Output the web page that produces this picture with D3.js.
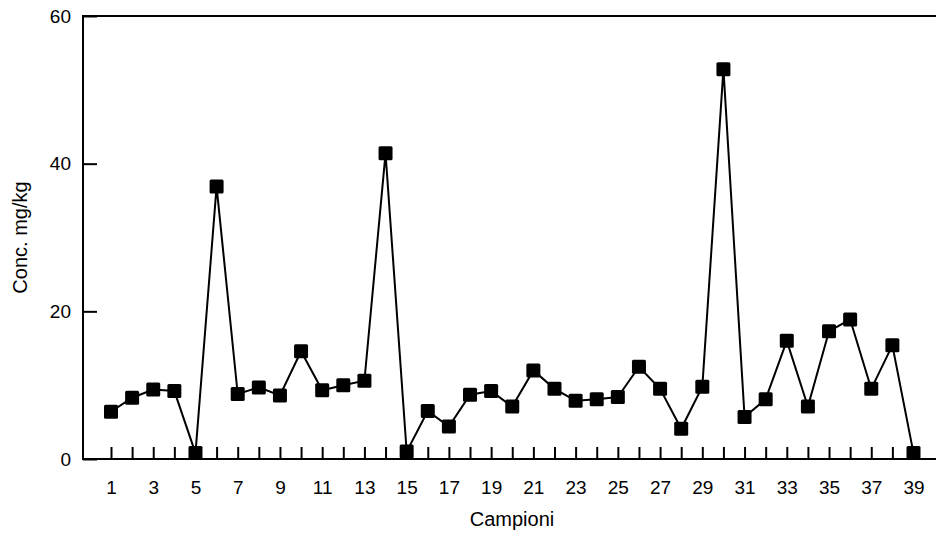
<!DOCTYPE html>
<html>
<head>
<meta charset="utf-8">
<script type="text/javascript" src="https://cdn.jsdelivr.net/npm/d3@7"></script>
<style>
	body { margin: 0; background: #fff; }
	text { font-family: "Liberation Sans", Arial, sans-serif; fill: #000; }
</style>
</head>
<body>
<div id="chart"></div>
<script type="text/javascript">
var campioni = d3.range(1, 40),
	conc = [6.4, 8.3, 9.4, 9.2, 0.8, 36.9, 8.8, 9.7, 8.6, 14.6,
		9.3, 10.0, 10.6, 41.4, 1.0, 6.5, 4.4, 8.7, 9.2, 7.1,
		12.0, 9.5, 7.9, 8.1, 8.4, 12.5, 9.5, 4.1, 9.8, 52.8,
		5.7, 8.1, 16.0, 7.1, 17.3, 18.9, 9.5, 15.4, 0.8],
	yTicks = [0, 20, 40, 60];

var w = 936,
	h = 536,
	plotLeft = 83,
	plotTop = 16,
	plotBottom = 459;

var svg = d3.select("#chart")
	.append("svg")
	.attr("width", w)
	.attr("height", h);

var x = d3.scaleLinear().domain([1, 39]).range([111, 913.5]);
var y = d3.scaleLinear().domain([0, 60]).range([plotBottom, plotTop]);

// frame: left, bottom and top lines (right side runs off the picture)
svg.append("path")
	.attr("d", "M" + w + "," + plotTop + "H" + plotLeft + "V" + plotBottom + "H" + w)
	.style("fill", "none")
	.style("stroke", "#000")
	.style("stroke-width", 2);

// x axis, ticks pointing inward
var xAxis = svg.append("g")
	.attr("transform", "translate(0," + plotBottom + ")")
	.call(d3.axisBottom(x)
		.tickValues(campioni)
		.tickSizeInner(-12)
		.tickSizeOuter(0)
		.tickPadding(22)
		.tickFormat(function(d) { return d % 2 ? d : ""; }));
xAxis.select(".domain").remove();
xAxis.selectAll("line").style("stroke-width", 2);
xAxis.selectAll("text").style("font-size", "19px");

// y axis, ticks pointing inward
var yAxis = svg.append("g")
	.attr("transform", "translate(" + plotLeft + ",0)")
	.call(d3.axisLeft(y)
		.tickValues(yTicks)
		.tickSizeInner(-14)
		.tickSizeOuter(0)
		.tickPadding(12));
yAxis.select(".domain").remove();
yAxis.selectAll("line").style("stroke-width", 2);
yAxis.selectAll("text").style("font-size", "19px");

svg.append("text")
	.attr("x", 512)
	.attr("y", 526)
	.attr("text-anchor", "middle")
	.style("font-size", "20px")
	.text("Campioni");

svg.append("text")
	.attr("transform", "translate(27," + ((plotTop + plotBottom) / 2) + ") rotate(-90)")
	.attr("text-anchor", "middle")
	.style("font-size", "20px")
	.text("Conc. mg/kg");

var line = d3.line()
	.x(function(d, i) { return x(campioni[i]); })
	.y(function(d) { return y(d); });

svg.append("path")
	.datum(conc)
	.attr("d", line)
	.style("fill", "none")
	.style("stroke", "#000")
	.style("stroke-width", 2);

svg.selectAll("rect.pt")
	.data(conc)
	.enter().append("rect")
	.attr("class", "pt")
	.attr("x", function(d, i) { return x(campioni[i]) - 7; })
	.attr("y", function(d) { return y(d) - 7; })
	.attr("width", 14)
	.attr("height", 14)
	.attr("rx", 1.5)
	.style("fill", "#000");
</script>
</body>
</html>
